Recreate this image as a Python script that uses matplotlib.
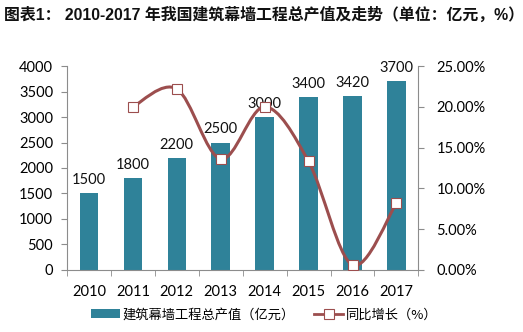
import numpy as np
import matplotlib.pyplot as plt
from matplotlib.path import Path
from matplotlib.patches import PathPatch
from matplotlib.lines import Line2D
from matplotlib.patches import Patch
from matplotlib.ticker import FuncFormatter

plt.rcParams['font.family'] = ['Noto Sans CJK SC', 'DejaVu Sans']

years = ['2010', '2011', '2012', '2013', '2014', '2015', '2016', '2017']
output_val = [1500, 1800, 2200, 2500, 3000, 3400, 3420, 3700]
growth = [None, 20.0, 22.2, 13.6, 20.0, 13.3, 0.6, 8.2]

bar_c = '#2f8299'
line_c = '#9c4e4e'
spine_c = '#8c8c8c'
num_font = 'Lato'

fig = plt.figure(figsize=(5.23, 3.32), dpi=100)
ax = fig.add_axes([0.128, 0.187, 0.672, 0.614])
ax2 = ax.twinx()

x = np.arange(len(years))
ax.bar(x, output_val, width=0.42, color=bar_c, zorder=2)
for xi, v in zip(x, output_val):
    ax.text(xi, v + 120, str(v), ha='center', va='bottom', fontsize=10.5,
            family=num_font, color='#111111')

ax.set_xlim(-0.5, len(years) - 0.5)
ax.set_ylim(0, 4000)
ax.set_yticks(range(0, 4001, 500))
ax.set_xticks(x)
ax.set_xticklabels(years)
ax.set_xticks(np.arange(-0.5, len(years)), minor=True)
ax.tick_params(axis='x', which='major', length=0, pad=11, labelsize=10.5)
ax.tick_params(axis='x', which='minor', length=4, color=spine_c, direction='out')
ax.tick_params(axis='y', length=4, color=spine_c, labelsize=10.5, pad=6)
for lab in ax.get_xticklabels() + ax.get_yticklabels():
    lab.set_family(num_font)

# percent line, smoothed like excel (bezier through the points)
gx = [xi for xi, g in zip(x, growth) if g is not None]
gy = [g for g in growth if g is not None]
pts = np.column_stack([gx, gy]).astype(float)
verts = [tuple(pts[0])]
codes = [Path.MOVETO]
n = len(pts)
for i in range(n - 1):
    p0 = pts[i - 1] if i > 0 else pts[i]
    p1 = pts[i]
    p2 = pts[i + 1]
    p3 = pts[i + 2] if i + 2 < n else pts[i + 1]
    c1 = p1 + (p2 - p0) / 6
    c2 = p2 - (p3 - p1) / 6
    verts += [tuple(c1), tuple(c2), tuple(p2)]
    codes += [Path.CURVE4] * 3
ax2.add_patch(PathPatch(Path(verts, codes), facecolor='none', edgecolor=line_c,
                        lw=2.2, zorder=3))
ax2.plot(gx, gy, ls='none', marker='s', ms=7.5, mfc='white', mec=line_c, mew=0.8, zorder=4)

ax2.set_ylim(0, 25)
ax2.set_yticks(range(0, 26, 5))
ax2.yaxis.set_major_formatter(FuncFormatter(lambda v, p: '%.2f%%' % v))
ax2.tick_params(axis='y', length=4, color=spine_c, labelsize=10.5, pad=9)
for lab in ax2.get_yticklabels():
    lab.set_family(num_font)

for a in (ax, ax2):
    a.spines['top'].set_visible(False)
    for s in ('left', 'right', 'bottom'):
        a.spines[s].set_color(spine_c)
ax.spines['right'].set_visible(False)
ax2.spines['left'].set_visible(False)
ax2.spines['bottom'].set_visible(False)

fig.text(0.008, 0.955, '图表1： 2010-2017 年我国建筑幕墙工程总产值及走势（单位：亿元，%）',
         fontsize=11.45, fontweight='bold', va='center', ha='left', color='#111111',
         family=['Liberation Sans', 'Noto Sans CJK SC'])

handles = [Patch(facecolor=bar_c, edgecolor='none'),
           Line2D([], [], color=line_c, lw=2, marker='s', ms=7.5, mfc='white', mec=line_c, mew=0.8)]
fig.legend(handles, ['建筑幕墙工程总产值（亿元）', '同比增长（%）'], loc='center',
           bbox_to_anchor=(0.505, 0.052), ncol=2, frameon=False, fontsize=9.5,
           handlelength=2.2, handleheight=0.6, columnspacing=1.5, handletextpad=0.2)

fig.savefig('out.png', dpi=100)
